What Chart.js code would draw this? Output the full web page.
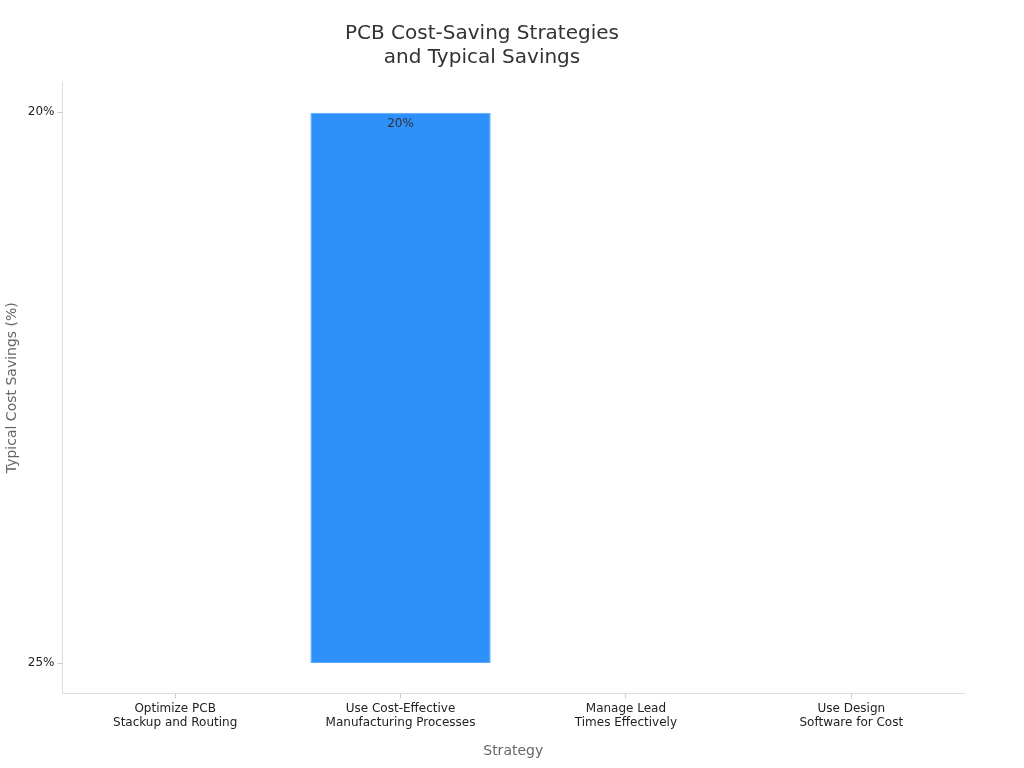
<!DOCTYPE html>
<html>
<head>
<meta charset="utf-8">
<script src="https://cdn.jsdelivr.net/npm/chart.js@4"></script>
<style>
  body { margin: 0; background: #fff; }
  #wrap { width: 1024px; height: 768px; }
</style>
</head>
<body>
<div id="wrap"><canvas id="bar-chart"></canvas></div>
<script>
const categories = [
  ['Optimize PCB', 'Stackup and Routing'],
  ['Use Cost-Effective', 'Manufacturing Processes'],
  ['Manage Lead', 'Times Effectively'],
  ['Use Design', 'Software for Cost']
]
const yLabels = ['20%', '25%']
// each bar spans between two y label positions (index into yLabels)
const savings = [null, [1, 0], null, null]
const savingsText = [null, '20%', null, null]

// writes the value just under the top of each bar
const valueLabels = {
  id: 'valueLabels',
  afterDatasetsDraw (chart) {
    const ctx = chart.ctx
    const meta = chart.getDatasetMeta(0)
    ctx.save()
    ctx.font = '12px "DejaVu Sans"'
    ctx.fillStyle = '#333'
    ctx.textAlign = 'center'
    ctx.textBaseline = 'top'
    meta.data.forEach((bar, i) => {
      if (savingsText[i] == null) return
      ctx.fillText(savingsText[i], bar.x, Math.min(bar.y, bar.base) + 5)
    })
    ctx.restore()
  }
}

Chart.defaults.font.family = '"DejaVu Sans", sans-serif'
Chart.defaults.color = '#222'

// eslint-disable-next-line no-unused-vars, no-undef
const chart = new Chart(document.querySelector('#bar-chart'), {
  type: 'bar',
  data: {
    labels: categories,
    datasets: [{
      data: savings,
      backgroundColor: '#2E90FA',
      borderColor: '#5aa8fb',
      borderWidth: 1,
      borderSkipped: false,
      barPercentage: 0.8,
      categoryPercentage: 1
    }]
  },
  options: {
    responsive: true,
    maintainAspectRatio: false,
    animation: false,
    layout: { padding: { left: 0, right: 60, top: 0, bottom: 4 } },
    scales: {
      x: {
        grid: { drawOnChartArea: false, offset: false, color: '#ccc', tickLength: 5 },
        border: { color: '#ddd' },
        ticks: { font: { size: 12 }, color: '#222' },
        title: { display: true, text: 'Strategy', color: '#666', font: { size: 14 }, padding: { top: 10 } }
      },
      y: {
        type: 'linear',
        reverse: true,
        min: -0.055,
        max: 1.055,
        afterBuildTicks: (axis) => { axis.ticks = yLabels.map((l, i) => ({ value: i })) },
        grid: { drawOnChartArea: false, color: '#ccc', tickLength: 5 },
        border: { color: '#ddd' },
        ticks: { font: { size: 12 }, color: '#222', callback: (v) => yLabels[v] },
        title: { display: true, text: 'Typical Cost Savings (%)', color: '#666', font: { size: 14 } }
      }
    },
    plugins: {
      legend: { display: false },
      tooltip: { enabled: false },
      title: {
        display: true,
        text: ['PCB Cost-Saving Strategies', 'and Typical Savings'],
        color: '#333',
        font: { size: 20, weight: 'normal' },
        padding: { top: 22, bottom: 12 }
      }
    }
  },
  plugins: [valueLabels]
})
</script>
</body>
</html>
